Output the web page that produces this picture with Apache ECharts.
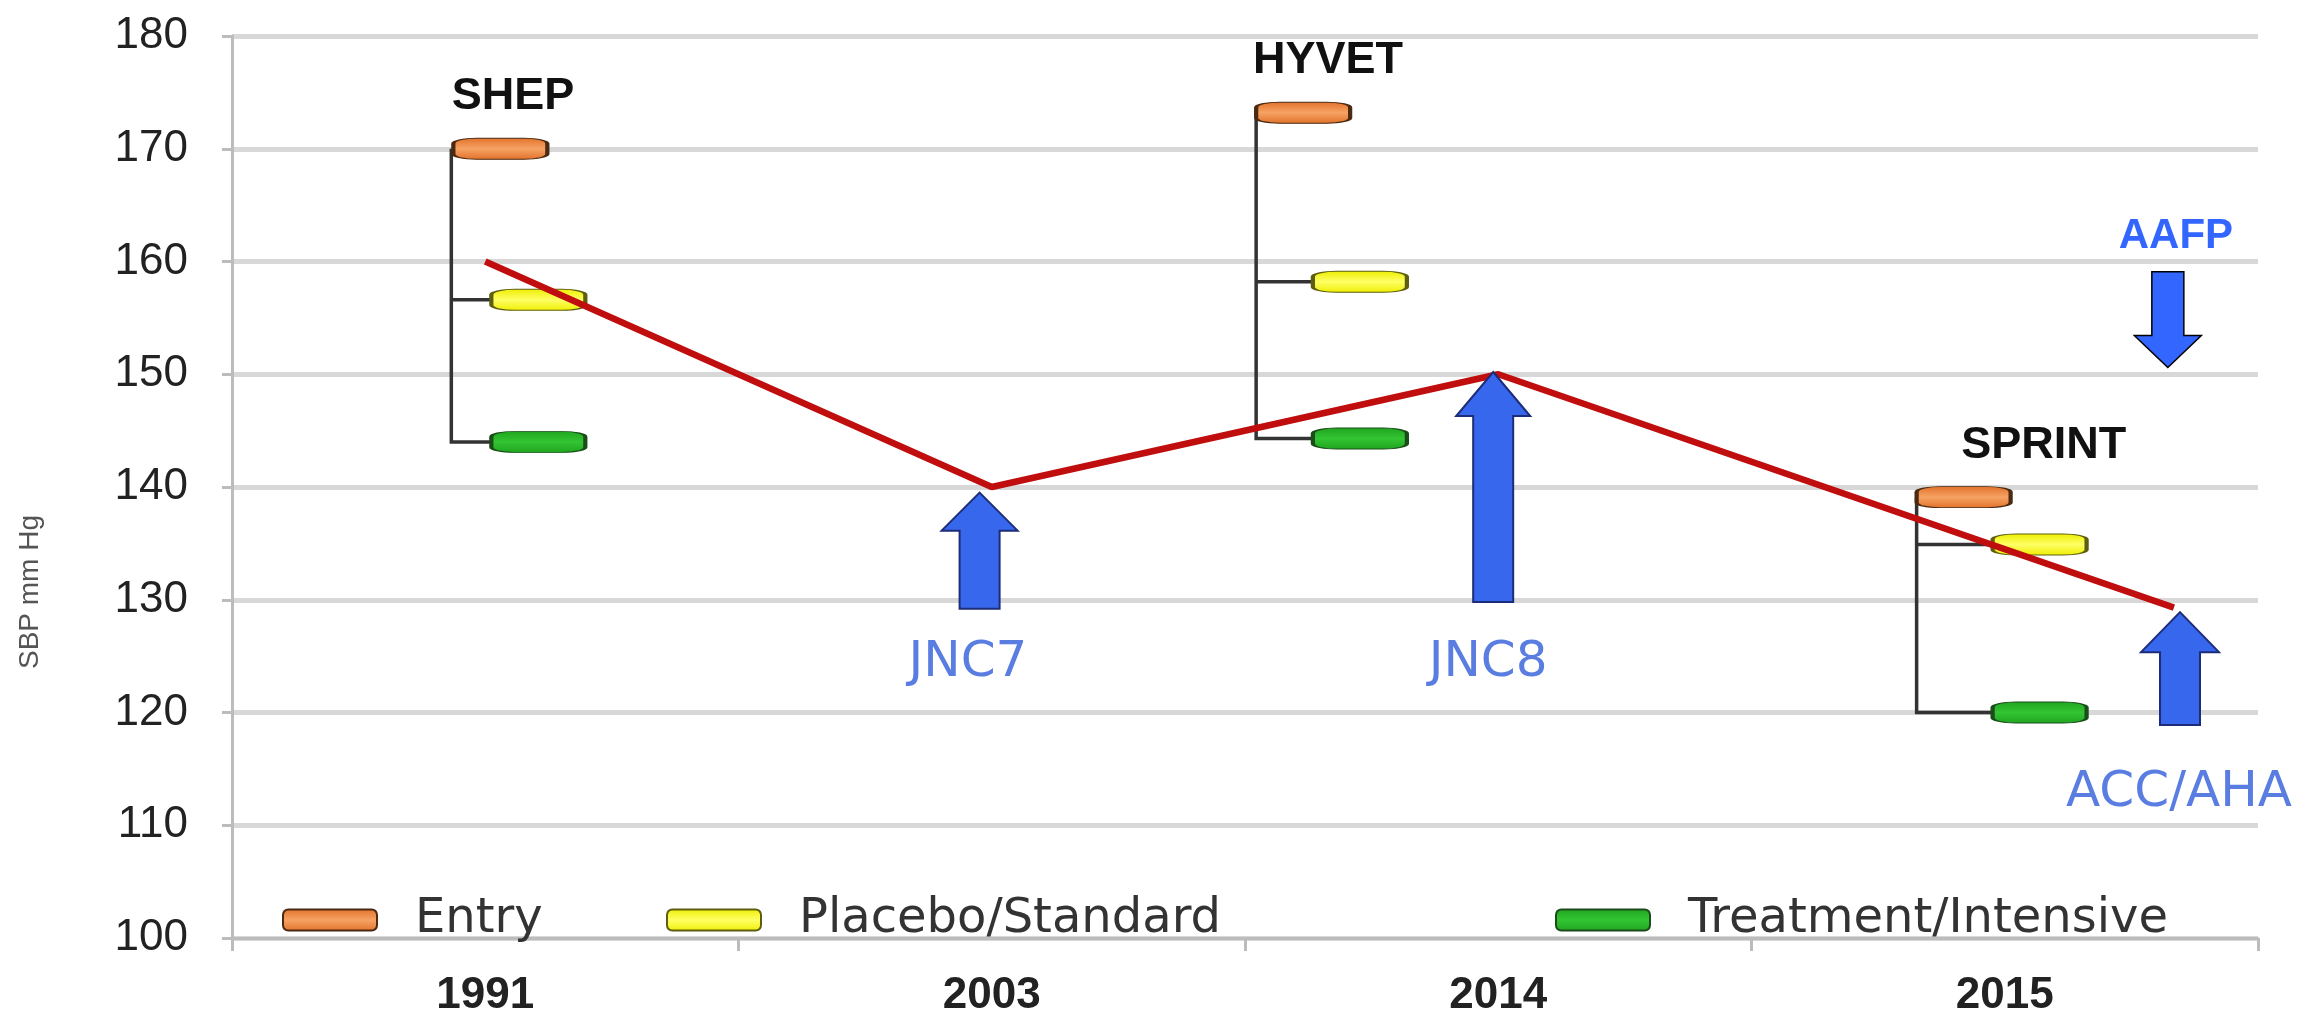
<!DOCTYPE html>
<html>
<head>
<meta charset="utf-8">
<title>SBP targets in trials and guidelines</title>
<script src="https://cdn.jsdelivr.net/npm/echarts@6/dist/echarts.min.js"></script>
<style>
  html, body { margin: 0; padding: 0; background: #ffffff; }
  #chart { width: 2323px; height: 1024px; }
</style>
</head>
<body>
<div id="chart"></div>
<script>
// Category axis (years)
const years = ['1991', '2003', '2014', '2015'];
const yTicks = { min: 100, max: 180, interval: 10 };

// Guideline threshold line (x on the 0..3 category scale)
const thresholdX = [0, 1, 2, 3.334];
const thresholdSBP = [160, 140, 150, 129.3];

// Trials: entry, placebo/standard and treatment/intensive SBP
const studyNames = ['SHEP', 'HYVET', 'SPRINT'];
const entrySBP = [170, 173.2, 139.1];
const standardSBP = [156.6, 158.2, 134.9];
const intensiveSBP = [144.0, 144.3, 120.0];
// where each trial is placed along the year scale
const bracketX = [-0.067, 1.522, 2.826];
const entryBarX = [-0.063, 1.522, 2.826];
const armBarX = [0.012, 1.634, 2.976];
const studyLabelX = [0.055, 1.664, 3.077];

// Guideline arrows
const guideNames = ['JNC7', 'JNC8', 'ACC/AHA', 'AAFP'];
const guideX = [0.976, 1.990, 3.346, 3.322];
const guideFrom = [129.2, 129.8, 118.9, 159.1];
const guideTo = [139.5, 150.2, 128.9, 150.6];
const guideLabelX = [0.953, 1.980, 3.344, 3.338];
const guideLabelY = [124.4, 124.4, 112.9, 162.2];

// ---- styles ----
const FONT = '"Liberation Sans", Arial, sans-serif';
const barW = 94, barH = 21;
const arrowStyles = [
  { sw: 40, hw: 76, hl: 38, fill: '#3767ec', stroke: '#1d2c78', lw: 2, font: '50px "DejaVu Sans", sans-serif', color: '#5a7de2' },
  { sw: 40, hw: 74, hl: 44, fill: '#3767ec', stroke: '#1d2c78', lw: 2, font: '50px "DejaVu Sans", sans-serif', color: '#5a7de2' },
  { sw: 40, hw: 78, hl: 40, fill: '#3767ec', stroke: '#1d2c78', lw: 2, font: '50px "DejaVu Sans", sans-serif', color: '#5a7de2' },
  { sw: 32, hw: 67, hl: 32, fill: '#3366ff', stroke: '#000000', lw: 1.5, font: 'bold 42px ' + FONT, color: '#3366ff' }
];

function grad(edge, mid) {
  return new echarts.graphic.LinearGradient(0, 0, 0, 1, [
    { offset: 0, color: edge }, { offset: 0.5, color: mid }, { offset: 1, color: edge }
  ]);
}
const armColors = {
  'Entry': { fill: grad('#e2712a', '#f6a364'), border: '#4a2a12' },
  'Placebo/Standard': { fill: grad('#eeee00', '#ffff66'), border: '#5e5e10' },
  'Treatment/Intensive': { fill: grad('#1fa51f', '#33c433'), border: '#1a4d1a' }
};

function barSeries(name, xs, vals) {
  return {
    name: name,
    type: 'scatter',
    xAxisIndex: 1,
    yAxisIndex: 0,
    symbol: 'roundRect',
    symbolSize: [barW, barH],
    symbolOffset: [barW / 2, 0],
    z: 4,
    itemStyle: { color: armColors[name].fill, borderColor: armColors[name].border, borderWidth: 2, opacity: 1 },
    data: xs.map((x, i) => [x, vals[i]])
  };
}

const legendBase = {
  orient: 'horizontal',
  top: 890,
  itemWidth: barW,
  itemHeight: barH,
  selectedMode: false,
  textStyle: { fontSize: 48, fontFamily: '"DejaVu Sans", sans-serif', color: '#333', padding: [0, 0, 0, 33], lineHeight: 50 }
};

const chart = echarts.init(document.getElementById('chart'), null, { renderer: 'canvas' });

chart.setOption({
  animation: false,
  backgroundColor: '#ffffff',
  grid: { left: 232, right: 65, top: 36, bottom: 86 },
  legend: [
    Object.assign({}, legendBase, { left: 277, data: ['Entry'] }),
    Object.assign({}, legendBase, { left: 661, data: ['Placebo/Standard'] }),
    Object.assign({}, legendBase, { left: 1550, data: ['Treatment/Intensive'] })
  ],
  xAxis: [
    {
      type: 'category',
      data: years,
      boundaryGap: true,
      axisLine: { onZero: false, lineStyle: { color: '#bcbcbc', width: 3 } },
      axisTick: { show: true, length: 13, lineStyle: { color: '#bcbcbc', width: 3 } },
      axisLabel: { fontSize: 44, fontWeight: 'bold', fontFamily: FONT, color: '#222', margin: 36 },
      splitLine: { show: false }
    },
    { type: 'value', min: -0.5, max: 3.5, show: false }
  ],
  yAxis: {
    type: 'value',
    min: yTicks.min,
    max: yTicks.max,
    interval: yTicks.interval,
    axisLine: { show: true, onZero: false, lineStyle: { color: '#bcbcbc', width: 3 } },
    axisTick: { show: true, length: 10, lineStyle: { color: '#bcbcbc', width: 3 } },
    axisLabel: { fontSize: 44, fontFamily: FONT, color: '#222', margin: 44 },
    splitLine: { lineStyle: { color: '#d8d8d8', width: 5 } }
  },
  graphic: [{
    type: 'text',
    x: 30, y: 592,
    rotation: Math.PI / 2,
    style: { text: 'SBP mm Hg', font: '28px ' + FONT, fill: '#555', align: 'center', verticalAlign: 'middle' }
  }],
  series: [
    // trial brackets and trial names
    {
      type: 'custom',
      name: 'trials',
      xAxisIndex: 1,
      yAxisIndex: 0,
      z: 3,
      silent: true,
      data: studyNames.map((n, i) => [bracketX[i], armBarX[i], entrySBP[i], standardSBP[i], intensiveSBP[i], studyLabelX[i], entryBarX[i]]),
      renderItem: function (params, api) {
        const bx = api.value(0), ax = api.value(1);
        const e = api.value(2), s = api.value(3), t = api.value(4), lx = api.value(5);
        const pTop = api.coord([bx, e]);
        const pBot = api.coord([bx, t]);
        const pStd = api.coord([bx, s]);
        const pStdEnd = api.coord([ax, s]);
        const pIntEnd = api.coord([ax, t]);
        const pLab = api.coord([lx, e]);
        return {
          type: 'group',
          children: [
            { type: 'polyline', shape: { points: [pTop, pBot, pIntEnd] }, style: { stroke: '#333', lineWidth: 3.5, fill: null } },
            { type: 'line', shape: { x1: pStd[0], y1: pStd[1], x2: pStdEnd[0], y2: pStdEnd[1] }, style: { stroke: '#333', lineWidth: 3.5 } },
            { type: 'text', x: pLab[0], y: pLab[1] - 52, style: { text: studyNames[params.dataIndex], font: 'bold 45px ' + FONT, fill: '#111', align: 'center', verticalAlign: 'middle' } }
          ]
        };
      }
    },
    barSeries('Entry', entryBarX, entrySBP),
    barSeries('Placebo/Standard', armBarX, standardSBP),
    barSeries('Treatment/Intensive', armBarX, intensiveSBP),
    // guideline threshold line
    {
      type: 'line',
      name: 'threshold',
      xAxisIndex: 1,
      yAxisIndex: 0,
      z: 5,
      symbol: 'none',
      silent: true,
      lineStyle: { color: '#c00d0d', width: 6.5 },
      data: thresholdX.map((x, i) => [x, thresholdSBP[i]])
    },
    // guideline arrows with names
    {
      type: 'custom',
      name: 'guidelines',
      xAxisIndex: 1,
      yAxisIndex: 0,
      z: 6,
      silent: true,
      data: guideNames.map((n, i) => [guideX[i], guideFrom[i], guideTo[i], guideLabelX[i], guideLabelY[i]]),
      renderItem: function (params, api) {
        const st = arrowStyles[params.dataIndex];
        const tail = api.coord([api.value(0), api.value(1)]);
        const tip = api.coord([api.value(0), api.value(2)]);
        const lab = api.coord([api.value(3), api.value(4)]);
        const cx = tip[0], ty = tip[1], by = tail[1];
        const dir = by > ty ? 1 : -1;
        const hb = ty + dir * st.hl;
        const pts = [
          [cx, ty], [cx + st.hw / 2, hb], [cx + st.sw / 2, hb], [cx + st.sw / 2, by],
          [cx - st.sw / 2, by], [cx - st.sw / 2, hb], [cx - st.hw / 2, hb]
        ];
        return {
          type: 'group',
          children: [
            { type: 'polygon', shape: { points: pts }, style: { fill: st.fill, stroke: st.stroke, lineWidth: st.lw, lineJoin: 'miter' } },
            { type: 'text', x: lab[0], y: lab[1], style: { text: guideNames[params.dataIndex], font: st.font, fill: st.color, align: 'center', verticalAlign: 'middle' } }
          ]
        };
      }
    }
  ]
});
</script>
</body>
</html>
